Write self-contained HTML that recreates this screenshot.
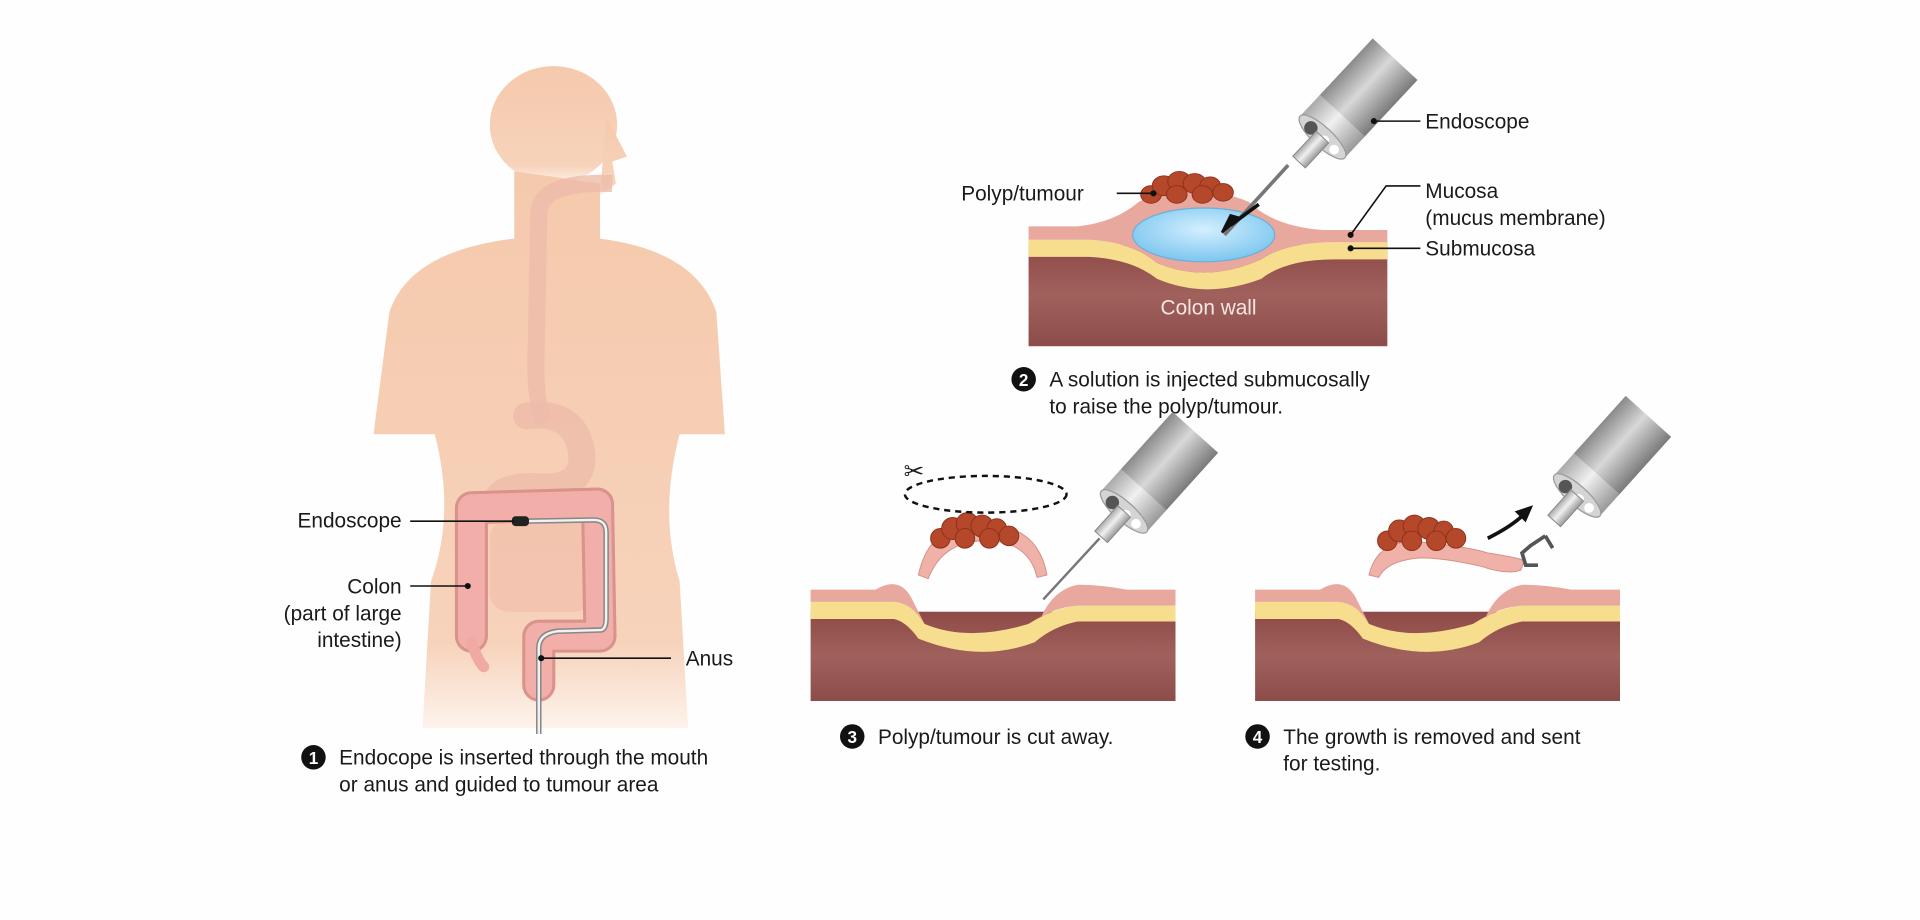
<!DOCTYPE html>
<html><head><meta charset="utf-8"><style>
html,body{margin:0;padding:0;background:#fefefe;}
svg{display:block}
text{font-family:"Liberation Sans",sans-serif;fill:#1a1a1a}
</style></head><body>
<svg width="1920" height="920" viewBox="0 0 1568 752" preserveAspectRatio="none" xmlns="http://www.w3.org/2000/svg">
<defs>
<linearGradient id="bodyfade" x1="0" y1="0" x2="0" y2="1">
<stop offset="0" stop-color="#f5c9ac"/><stop offset="0.85" stop-color="#f7d3bb"/><stop offset="1" stop-color="#fdf3ec"/>
</linearGradient>
<linearGradient id="wall" x1="0" y1="0" x2="0" y2="1">
<stop offset="0" stop-color="#8e4a47"/><stop offset="0.5" stop-color="#a0615d"/><stop offset="1" stop-color="#8c4d4a"/>
</linearGradient>
<linearGradient id="metal" x1="0" y1="0" x2="0" y2="1">
<stop offset="0" stop-color="#8a8a8a"/><stop offset="0.45" stop-color="#d8d8d8"/><stop offset="1" stop-color="#7a7a7a"/>
</linearGradient>
<linearGradient id="metal2" x1="0" y1="0" x2="0" y2="1">
<stop offset="0" stop-color="#aaa"/><stop offset="0.45" stop-color="#f0f0f0"/><stop offset="1" stop-color="#999"/>
</linearGradient>
<radialGradient id="blue" cx="0.5" cy="0.4" r="0.6">
<stop offset="0" stop-color="#d4efff"/><stop offset="1" stop-color="#7cc6ef"/>
</radialGradient>
<g id="scope">
<rect x="22" y="-25" width="65" height="50" fill="url(#metal)"/>
<rect x="0" y="-25" width="24" height="50" fill="url(#metal2)"/>
<ellipse cx="0" cy="0" rx="8" ry="25" fill="#d4d4d4" stroke="#999"/>
<circle cx="-1" cy="-12" r="5.5" fill="#555"/>
<circle cx="-1" cy="3" r="4" fill="#fff"/>
<circle cx="-1" cy="14" r="4" fill="#fff"/>
<rect x="-28" y="-7" width="28" height="14" fill="url(#metal2)" stroke="#888" stroke-width="0.8"/>
</g>
<g id="polyp" fill="#b5472a" stroke="#8e321b" stroke-width="0.8">
<circle cx="0" cy="10" r="8"/><circle cx="10" cy="2" r="9"/><circle cx="22" cy="-2" r="9"/><circle cx="34" cy="0" r="9"/><circle cx="46" cy="2" r="8"/><circle cx="56" cy="8" r="8"/><circle cx="20" cy="10" r="8"/><circle cx="40" cy="10" r="8"/>
</g>
</defs>

<!-- Panel 1 body -->
<g fill="url(#bodyfade)">
<ellipse cx="452" cy="102" rx="52" ry="48"/>
<path d="M495 95 L512 128 L500 132 L503 150 L490 160 Z"/>
<path d="M420 140 L420 195 Q335 205 318 255 L305 355 L355 355 Q372 420 352 475 L345 595 L562 595 L555 475 Q538 420 555 355 L592 355 L585 255 Q568 205 490 195 L490 150 Z"/>
</g>
<path d="M500 150 Q440 148 440 175 L438 280 Q436 330 445 345" stroke="#eebcaa" stroke-width="14" fill="none" opacity="0.8"/>
<path d="M430 340 Q470 335 475 370 Q478 400 440 398 Q410 396 405 410" stroke="#eebcaa" stroke-width="22" fill="none" opacity="0.8" stroke-linecap="round"/>
<rect x="400" y="425" width="85" height="75" rx="15" fill="#f0bba8" opacity="0.6"/>
<!-- colon -->
<path d="M385 520 L385 415 L488 412 L490 520 L440 520 L440 560" stroke="#d9928c" stroke-width="27" fill="none" stroke-linejoin="round" stroke-linecap="round"/>
<path d="M385 520 L385 415 L488 412 L490 520 L440 520 L440 560" stroke="#f2aeA8" stroke-width="22" fill="none" stroke-linejoin="round" stroke-linecap="round"/>
<path d="M385 525 Q390 540 395 545" stroke="#f0a9a4" stroke-width="9" fill="none" stroke-linecap="round"/>
<!-- endoscope tube -->
<path d="M440 600 L440 530 Q440 518 455 516 L490 515 Q495 515 495 505 L495 435 Q495 425 485 425 L428 426" stroke="#888" stroke-width="4.5" fill="none"/>
<path d="M440 600 L440 530 Q440 518 455 516 L490 515 Q495 515 495 505 L495 435 Q495 425 485 425 L428 426" stroke="#f2f2f2" stroke-width="2" fill="none"/>
<rect x="418" y="422" width="14" height="8" rx="3" fill="#222"/>
<g stroke="#111" stroke-width="1.3">
<line x1="335" y1="426" x2="420" y2="426"/><line x1="335" y1="479" x2="382" y2="479"/><line x1="442" y1="538" x2="548" y2="538"/>
</g>
<g fill="#111"><circle cx="382" cy="479" r="2.5"/><circle cx="442" cy="538" r="2.5"/></g>
<g font-size="17" text-anchor="end">
<text x="328" y="431">Endoscope</text>
<text x="328" y="485">Colon</text>
<text x="328" y="507">(part of large</text>
<text x="328" y="529">intestine)</text>
</g>
<text x="560" y="544" font-size="17">Anus</text>
<circle cx="256" cy="619" r="10" fill="#111"/><text x="256" y="624.5" font-size="14" font-weight="bold" text-anchor="middle" style="fill:#fff">1</text>
<text x="277" y="625" font-size="17">Endocope is inserted through the mouth</text>
<text x="277" y="647" font-size="17">or anus and guided to tumour area</text>

<!-- Panel 2 -->
<rect x="840" y="200" width="293" height="83" fill="url(#wall)"/>
<path d="M840 196 L890 196 Q925 198 945 215 Q985 232 1030 212 Q1050 198 1090 198 L1133 198 L1133 212 L1090 212 Q1050 212 1030 228 Q985 245 945 228 Q925 212 890 210 L840 210 Z" fill="#f7dd8e"/>
<path d="M840 185 L880 185 Q910 182 930 165 Q970 145 1020 165 Q1040 185 1080 188 L1133 188 L1133 198 L1090 198 Q1050 198 1030 212 Q985 232 945 215 Q925 198 890 196 L840 196 Z" fill="#e8a89e"/>
<ellipse cx="983" cy="192" rx="58" ry="22" fill="url(#blue)" stroke="#6ab0d8"/>
<use href="#polyp" transform="translate(940 150) scale(1.05 0.9)"/>
<text x="987" y="257" font-size="17" text-anchor="middle" style="fill:#f6e6e2">Colon wall</text>
<line x1="1000" y1="192" x2="1052" y2="135" stroke="#777" stroke-width="3"/>
<use href="#scope" transform="translate(1080 112) rotate(-47)"/>
<path d="M1028 167 L1005 184" stroke="#111" stroke-width="3"/><path d="M998 190 L1012 178 L1005 176 Z" fill="#111" stroke="#111" stroke-width="2"/>
<g stroke="#111" stroke-width="1.3" fill="none">
<line x1="912" y1="158" x2="942" y2="158"/><line x1="1122" y1="99" x2="1160" y2="99"/>
<path d="M1103 192 L1132 152 L1160 152"/><line x1="1103" y1="203" x2="1160" y2="203"/>
</g>
<g fill="#111"><circle cx="942" cy="158" r="2.5"/><circle cx="1122" cy="99" r="2.5"/><circle cx="1103" cy="192" r="2.5"/><circle cx="1103" cy="203" r="2.5"/></g>
<g font-size="17">
<text x="785" y="164">Polyp/tumour</text>
<text x="1164" y="105">Endoscope</text>
<text x="1164" y="162">Mucosa</text>
<text x="1164" y="184">(mucus membrane)</text>
<text x="1164" y="209">Submucosa</text>
</g>
<circle cx="836" cy="310" r="10" fill="#111"/><text x="836" y="315.5" font-size="14" font-weight="bold" text-anchor="middle" style="fill:#fff">2</text>
<text x="857" y="316" font-size="17">A solution is injected submucosally</text>
<text x="857" y="338" font-size="17">to raise the polyp/tumour.</text>

<!-- Panel 3 & 4 tissue -->
<g id="t3">
<rect x="662" y="500" width="298" height="73" fill="url(#wall)"/>
<path d="M662 492 L730 492 Q745 493 755 510 Q790 525 840 510 Q860 497 880 495 L960 495 L960 508 L880 508 Q860 512 845 525 Q800 542 750 522 Q740 508 730 506 L662 506 Z" fill="#f7dd8e"/>
<path d="M662 482 L715 482 Q735 470 745 490 L755 510 Q745 493 730 492 L662 492 Z M850 505 Q860 482 880 478 Q900 478 920 482 L960 482 L960 495 L880 495 Q860 497 850 505 Z" fill="#e8a89e"/>
</g>
<use href="#t3" transform="translate(363 0)"/>
<path d="M750 470 Q760 425 805 428 Q848 430 855 470 L847 472 Q840 442 805 442 Q770 442 758 473 Z" fill="#f0b1a8" stroke="#d4918a" stroke-width="0.8"/>
<use href="#polyp" transform="translate(768 430)"/>
<line x1="852" y1="490" x2="898" y2="440" stroke="#777" stroke-width="2"/>
<use href="#scope" transform="translate(918 418) rotate(-48)"/>
<ellipse cx="805" cy="404" rx="66" ry="15" fill="none" stroke="#111" stroke-width="2" stroke-dasharray="5 4"/>
<text x="738" y="392" font-size="20">✂</text>
<circle cx="696" cy="602" r="10" fill="#111"/><text x="696" y="607.5" font-size="14" font-weight="bold" text-anchor="middle" style="fill:#fff">3</text>
<text x="717" y="608" font-size="17">Polyp/tumour is cut away.</text>
<path d="M1118 470 Q1125 440 1160 443 Q1200 447 1215 452 Q1235 455 1245 458 L1242 466 Q1230 470 1210 463 Q1180 456 1160 456 Q1133 458 1126 472 Z" fill="#f0b1a8" stroke="#d4918a" stroke-width="0.8"/>
<use href="#polyp" transform="translate(1133 432)"/>
<use href="#scope" transform="translate(1288 405) rotate(-48)"/>
<path d="M1262 438 L1250 446 L1243 452 L1246 462 L1256 462 M1262 438 L1268 448" stroke="#555" stroke-width="3" fill="none"/>
<path d="M1215 440 Q1235 430 1245 420" stroke="#111" stroke-width="3" fill="none"/>
<path d="M1252 413 L1237 418 L1246 427 Z" fill="#111"/>
<circle cx="1027" cy="602" r="10" fill="#111"/><text x="1027" y="607.5" font-size="14" font-weight="bold" text-anchor="middle" style="fill:#fff">4</text>
<text x="1048" y="608" font-size="17">The growth is removed and sent</text>
<text x="1048" y="630" font-size="17">for testing.</text>
</svg>
</body></html>
